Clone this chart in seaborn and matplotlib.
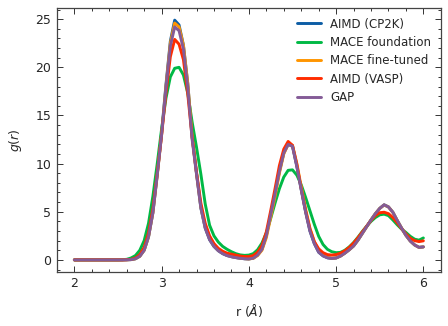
#--> Importing required libraries
import numpy as np
import pandas as pd
import matplotlib
matplotlib.use("Agg")
import matplotlib.pyplot as plt
import seaborn as sns
from matplotlib.ticker import AutoMinorLocator

#--> r grid (Angstrom), 0.05 step from 2.0 to 6.0
r = np.round(np.arange(2.0, 6.0001, 0.05), 2)

#--> g(r) values
zeros12 = [0.0] * 12  # r = 2.00 ... 2.55

gap = zeros12 + [
    0.01, 0.03, 0.12, 0.38, 1.0, 2.4, 4.9, 8.8, 13.0, 17.9,
    22.2, 24.2, 23.8, 21.9, 17.9, 12.5, 8.9, 5.4, 3.3, 2.1,
    1.4, 0.95, 0.65, 0.45, 0.33, 0.24, 0.17, 0.12, 0.1, 0.18,
    0.5, 1.1, 2.5, 4.7, 6.9, 9.2, 11.1, 12.0, 11.8, 9.7,
    7.3, 5.0, 3.0, 1.7, 0.8, 0.42, 0.22, 0.15, 0.2, 0.4,
    0.7, 1.05, 1.45, 2.05, 2.75, 3.45, 4.15, 4.8, 5.35, 5.72,
    5.5, 4.95, 4.1, 3.3, 2.55, 1.96, 1.55, 1.3, 1.35]

cp2k = zeros12 + [
    0.01, 0.03, 0.12, 0.38, 1.0, 2.4, 4.9, 8.9, 13.2, 18.2,
    22.7, 24.9, 24.4, 22.3, 18.3, 12.8, 9.0, 5.4, 3.3, 2.1,
    1.4, 0.95, 0.65, 0.45, 0.33, 0.24, 0.17, 0.12, 0.1, 0.18,
    0.5, 1.1, 2.5, 4.7, 6.9, 9.2, 11.1, 12.0, 11.8, 9.7,
    7.3, 5.0, 3.0, 1.7, 0.8, 0.42, 0.22, 0.15, 0.2, 0.4,
    0.7, 1.05, 1.45, 2.05, 2.75, 3.45, 4.15, 4.8, 5.35, 5.72,
    5.5, 4.95, 4.1, 3.3, 2.55, 1.96, 1.55, 1.3, 1.35]

mace_ft = zeros12 + [
    0.01, 0.03, 0.12, 0.38, 1.0, 2.4, 4.9, 8.8, 13.0, 18.0,
    22.5, 24.6, 24.2, 22.3, 18.3, 12.8, 9.0, 5.5, 3.4, 2.2,
    1.45, 1.0, 0.7, 0.48, 0.35, 0.26, 0.18, 0.13, 0.1, 0.16,
    0.45, 1.0, 2.3, 4.4, 6.6, 9.0, 11.0, 12.0, 11.9, 10.0,
    7.6, 5.3, 3.3, 1.9, 0.95, 0.5, 0.26, 0.17, 0.2, 0.4,
    0.7, 1.05, 1.45, 2.05, 2.75, 3.45, 4.15, 4.8, 5.35, 5.7,
    5.5, 4.95, 4.1, 3.3, 2.55, 1.96, 1.55, 1.3, 1.35]

vasp = zeros12 + [
    0.02, 0.06, 0.2, 0.55, 1.3, 2.8, 5.3, 9.0, 13.0, 17.3,
    21.1, 22.9, 22.4, 20.8, 17.2, 12.7, 9.1, 5.9, 3.8, 2.5,
    1.7, 1.2, 0.9, 0.7, 0.6, 0.5, 0.4, 0.35, 0.35, 0.45,
    0.8, 1.5, 2.9, 5.1, 7.4, 9.8, 11.5, 12.3, 11.9, 9.9,
    7.4, 5.1, 3.2, 1.9, 1.15, 0.75, 0.55, 0.5, 0.55, 0.7,
    0.95, 1.3, 1.75, 2.3, 2.9, 3.5, 4.1, 4.6, 4.9, 4.95,
    4.8, 4.4, 3.85, 3.25, 2.7, 2.25, 2.0, 1.9, 1.98]

mace_fd = [0.0] * 11 + [
    0.02, 0.06, 0.2, 0.45, 1.0, 2.0, 3.8, 6.6, 10.0, 13.6,
    16.8, 19.0, 19.9, 20.0, 19.2, 17.3, 14.3, 11.7, 8.9, 5.8,
    3.6, 2.5, 1.85, 1.4, 1.1, 0.85, 0.65, 0.52, 0.47, 0.5,
    0.65, 1.05, 1.75, 2.8, 4.3, 5.9, 7.4, 8.6, 9.3, 9.35,
    8.8, 7.8, 6.5, 5.1, 3.7, 2.45, 1.6, 1.1, 0.85, 0.75,
    0.78, 1.0, 1.35, 1.8, 2.35, 2.95, 3.5, 4.0, 4.4, 4.68,
    4.75, 4.6, 4.15, 3.65, 3.2, 2.85, 2.45, 2.15, 2.05, 2.28]

labels = ["AIMD (CP2K)", "MACE foundation", "MACE fine-tuned", "AIMD (VASP)", "GAP"]
series = [cp2k, mace_fd, mace_ft, vasp, gap]
colors = ["#0C5DA5", "#00B945", "#FF9500", "#FF2C00", "#845B97"]

##--> Plot <--##
sns.set_style("ticks")
plt.rcParams["font.family"] = ["DejaVu Sans"]
plt.rcParams["font.size"] = 9
plt.rcParams["mathtext.fontset"] = "dejavusans"

fig, ax = plt.subplots(figsize=(4.48, 3.26), dpi=100)
fig.subplots_adjust(left=0.127, right=0.984, top=0.975, bottom=0.166)

for lab, vals, col in zip(labels, series, colors):
    sns.lineplot(x=r, y=vals, ax=ax, color=col, lw=2.1, label=lab)

ax.set_xlabel(r"r ($\AA$)", fontsize=9, labelpad=8)
ax.set_ylabel(r"$g(r)$", fontsize=9, labelpad=8)
ax.set_xticks([2, 3, 4, 5, 6])
ax.set_yticks([0, 5, 10, 15, 20, 25])
ax.xaxis.set_minor_locator(AutoMinorLocator(5))
ax.yaxis.set_minor_locator(AutoMinorLocator(5))
ax.tick_params(which="both", direction="in", top=True, right=True, width=0.7, color="#333333")
ax.tick_params(which="major", length=4, labelsize=9, pad=4)
ax.tick_params(which="minor", length=2)
for sp in ax.spines.values():
    sp.set_linewidth(0.9)
    sp.set_color("#444444")

ax.legend(loc="upper right", frameon=False, fontsize=8.5, handlelength=2.0,
          labelspacing=0.45, borderaxespad=0.4)

fig.savefig("out.png", dpi=100)
